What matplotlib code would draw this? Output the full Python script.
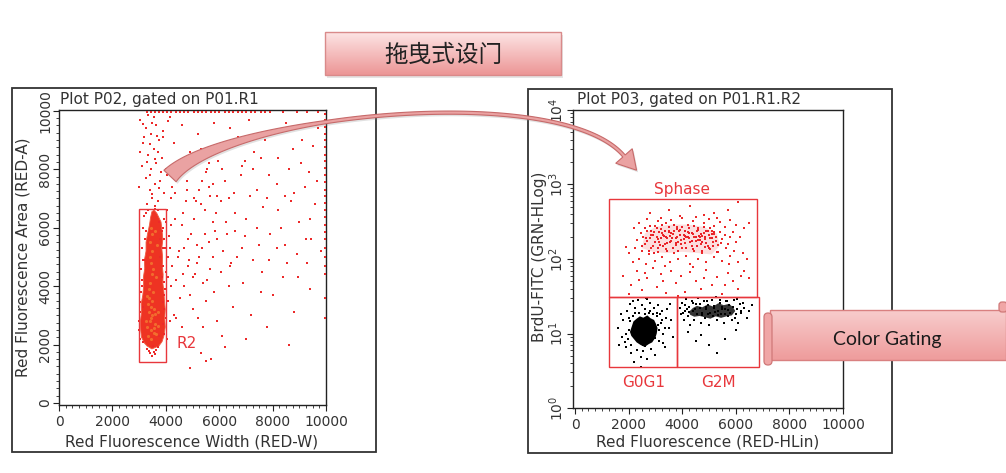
import matplotlib.pyplot as plt
import numpy as np
from matplotlib.patches import Rectangle, Polygon, FancyBboxPatch
from matplotlib.ticker import MultipleLocator, LogLocator, NullFormatter
from matplotlib.colors import LinearSegmentedColormap

plt.rcParams['font.family'] = ['DejaVu Sans', 'Noto Sans CJK SC']

# ---------------- data ----------------
# left plot P02: RED-W vs RED-A
col_env_x = [3480, 3300, 3200, 3090, 3060, 3050, 3090, 3080, 3140, 3170, 3160, 3210, 3200, 3260, 3260, 3320, 3390, 3430, 3480,
             3560, 3660, 3740, 3820, 3860, 3890, 3850, 3880, 3870, 3900, 3890, 3930, 3950, 3980, 3960, 3980, 3930, 3860, 3740, 3610]
col_env_y = [1850, 1950, 2050, 2250, 2500, 2800, 3100, 3400, 3700, 4000, 4300, 4600, 4900, 5200, 5500, 5800, 6100, 6350, 6550,
             6600, 6500, 6350, 6200, 5900, 5600, 5300, 5000, 4700, 4400, 4100, 3800, 3500, 3200, 2900, 2600, 2300, 2100, 1950, 1900]
col_hi_x = [3350, 3450, 3550, 3400, 3500, 3300, 3600, 3450, 3380, 3520, 3420, 3480, 3560, 3360, 3440, 3500, 3400, 3470, 3530, 3430,
            3380, 3490, 3460, 3410, 3540, 3320, 3580, 3450, 3650, 3700, 3620, 3680, 3250, 3280, 3720, 3600]
col_hi_y = [2300, 2500, 2400, 2800, 3000, 2600, 2700, 3300, 3600, 3800, 4100, 4400, 3200, 3100, 4800, 5200, 5500, 5800, 4600, 2200,
            3900, 3500, 2900, 5000, 2550, 3400, 3050, 6000, 2350, 3100, 4300, 5400, 2800, 3650, 2650, 5900]
halo_x = [3000, 3020, 2980, 3060, 3080, 3120, 3150, 3200, 3900, 3950, 3920, 3850, 3800, 3780, 3760, 3700, 3400, 3550, 3300, 3650,
          4050, 4100, 4000, 3980, 3950, 3150, 3200, 3750, 3250, 3600, 4200, 4150, 3050, 3930, 3860, 3100, 4080, 3350, 3880, 3700,
          3040, 3090, 3140, 3160, 3210, 3260, 3990, 3970, 3910, 3890, 3940, 3880, 3470, 3520, 3590, 3360]
halo_y = [2500, 3100, 2800, 3800, 4600, 5300, 6000, 6400, 2700, 3200, 3700, 4300, 5000, 5600, 6200, 6600, 1700, 1750, 1850, 1800,
          2200, 3500, 4500, 5300, 6300, 2100, 4900, 2300, 6500, 6650, 4000, 2800, 3450, 2350, 5900, 4200, 5000, 6600, 3450, 1900,
          2200, 4000, 3300, 4900, 5600, 5900, 2900, 3900, 4700, 5300, 4150, 6000, 1620, 1950, 1680, 1780]
streak_x = [3300, 3500, 3700, 3400, 3600, 3250, 3800, 3450, 3650, 3350, 3550, 3150, 3750, 3450, 3250, 3650, 3050, 3550, 3850, 3100,
            3950, 3400, 3700, 3200, 3500, 3000, 3600, 3900, 3350, 4000, 3480, 3580, 3280, 3820, 3150, 3680, 3420, 3020, 4100, 3760]
streak_y = [6800, 7000, 6900, 7300, 7500, 7700, 7600, 8000, 8200, 8500, 8700, 8900, 9000, 9200, 9400, 9500, 9700, 9800, 8400, 8100,
            7200, 7800, 8600, 9100, 9600, 7400, 6750, 9300, 9850, 8000, 7150, 8350, 8250, 7900, 9550, 9150, 8850, 8600, 9650, 7350]
sparse_x = [4200, 4500, 4800, 5100, 5300, 5600, 5900, 6200, 6400, 6700, 7000, 7300, 7500, 7800, 8100, 8300, 8600, 8900, 9200, 9500,
            4100, 4400, 4700, 5000, 5400, 5800, 6100, 6500, 6900, 7200, 7600, 8000, 8400, 8800, 9300, 4300, 4600, 4900, 5200, 5500,
            5800, 6100, 6400, 6800, 7100, 7400, 7700, 8200, 8500, 8800, 9100, 9400, 9700, 4050, 4250, 4650, 4950, 5250, 5550, 5750,
            6050, 6300, 6600, 6850, 7150, 7400, 7650, 7900, 8200, 8450, 8700, 9000, 9250, 9600, 5500, 4900, 5300, 5700, 6200, 7000,
            7800, 8600, 9400, 9800, 3900, 4150, 4350, 4700, 5050, 5350, 5650, 5950, 6250, 6550, 6950, 7250, 7550, 7850, 8150, 8450,
            8750, 9050, 9350, 9650, 4550, 4850, 5150, 5450, 5750, 6050, 6350, 6650, 6950, 7250, 7550, 7850, 8150, 8550, 8950, 9450,
            3950, 4050, 4150, 4250, 4350, 4450, 4550, 4650, 4750, 4850, 4950, 5050, 5150, 5250, 5350, 5450, 5550, 5650, 5750, 5850,
            4100, 4300, 4600, 4900, 5200, 5500, 5900, 4000, 4200, 4400, 4700, 4800, 5000, 5300, 5600, 5900, 6150, 6350, 6600, 6850,
            4120, 4380, 4620, 4880, 5130, 5380, 5620, 5880, 6100, 6450]
sparse_y = [6100, 5200, 7300, 4400, 6800, 8200, 5600, 7600, 4700, 9100, 6300, 8600, 5400, 7000, 9300, 6000, 8000, 5100, 7400, 8800,
            3500, 2900, 4000, 3200, 2600, 3800, 2300, 3300, 4100, 3000, 4500, 3700, 4300, 3100, 4800, 8900, 9500, 8600, 9200, 7900,
            9600, 8800, 9400, 7800, 9700, 7300, 9000, 8400, 9600, 7200, 9000, 6300, 9400, 7800, 4700, 6500, 5800, 5000, 4200, 6200,
            6900, 5800, 6500, 5300, 7100, 6000, 6700, 5800, 6600, 5400, 6900, 6200, 5600, 6800, 1450, 1200, 1700, 1500, 1900, 2200,
            2600, 2000, 3900, 5200, 9100, 9800, 7200, 8200, 7000, 7600, 7100, 8300, 6200, 7200, 8300, 8000, 8400, 7800, 7500, 7100,
            8700, 8200, 7900, 7600, 3600, 4700, 5400, 5800, 5000, 4500, 4000, 5000, 5700, 4900, 3800, 4900, 5300, 4800, 4300, 5600,
            5600, 6600, 5300, 7400, 6300, 5000, 7800, 4400, 6900, 5600, 8400, 6300, 4800, 7300, 5300, 6600, 8000, 4600, 7500, 5900,
            4300, 3000, 2600, 3700, 2900, 3500, 2800, 6200, 7000, 8000, 5300, 7600, 4300, 8700, 5500, 7100, 5200, 7000, 5900, 8100,
            5700, 4200, 6100, 4900, 6900, 4100, 7400, 6500, 8000, 4800]
top_row_x = [3300, 3450, 3600, 3750, 3900, 4050, 4200, 4400, 4550, 4700, 4850, 5050, 5200, 5350, 5500, 5700, 5850, 6000, 6200,
             6350, 6500, 6700, 6850, 7000, 7200, 7350, 7550, 7700, 7900, 8400, 8900, 9300, 9700]
right_col_y = [9900, 9700, 9450, 9200, 9000, 8750, 8500, 8300, 8050, 7800, 7550, 7300, 7100, 6850, 6600, 6350, 6100, 5850, 5600,
               5300, 5000, 4700, 4400, 3600, 2900]
r2_x = [3000, 4000]
r2_y = [1400, 6650]

# right plot P03: RED-HLin vs BrdU-FITC (log)
g1_env_x = [2050, 2120, 2180, 2300, 2420, 2550, 2700, 2820, 2950, 3020, 3080, 3050, 3000, 2880, 2750, 2600, 2450, 2300, 2200, 2100]
g1_env_y = [10.5, 12.5, 14.5, 15.8, 17, 16.3, 17.5, 16, 15.2, 13.5, 11.8, 10, 8.8, 7.6, 7.2, 6.6, 7, 7.6, 8.4, 9.3]
g1_x = [1600, 1750, 1800, 1900, 1950, 2000, 2050, 2100, 2150, 2250, 2300, 2350, 2400, 2450, 2500, 2550, 2600, 2650, 2700, 2750,
        2800, 2850, 2900, 2950, 3000, 3050, 3100, 3150, 3200, 3250, 3300, 3350, 3400, 3500, 3550, 3650, 1700, 1850, 2050, 2200,
        2420, 2580, 2680, 2780, 2880, 2980, 3080, 3180, 2320, 2480, 2630, 2730, 2830, 2160, 1980, 3450, 3280, 2370, 2520, 2920,
        3600, 1650, 2450, 2700, 2150, 1900, 2000, 2100, 3150, 3250, 3350, 2250, 2600, 2800, 3050]
g1_y = [12, 9, 15, 6.5, 20, 11, 25, 5.5, 17, 22, 6, 28, 19, 4.8, 24, 5.8, 21, 30, 4.5, 19,
        26, 6.2, 18, 22, 5.2, 17, 24, 8, 14, 20, 10, 6.5, 16, 12, 25, 9, 18, 7.8, 14.5, 4.2,
        9, 12.5, 8.5, 14, 10.5, 8.8, 13, 18.5, 13, 15.5, 6.8, 11, 12.5, 11.5, 8.5, 21, 7.5, 8.2, 7, 13.8,
        15, 7, 3.6, 29, 27, 10, 16, 7, 11, 15, 12, 19, 18.5, 20, 19]
g2_env_x = [4250, 4400, 4550, 4750, 4950, 5150, 5350, 5550, 5750, 5900, 5980, 5850, 5650, 5450, 5250, 5050, 4850, 4650, 4450, 4300]
g2_env_y = [19.5, 22, 23.5, 22.5, 24.5, 23, 25.5, 24, 25, 22.5, 20, 17.5, 17, 16.2, 17, 15.8, 16.5, 17.2, 16.8, 17.8]
g2_x = [3900, 3950, 4000, 4050, 4100, 4150, 4200, 4250, 4300, 4350, 4400, 4450, 4500, 4550, 4600, 4650, 4700, 4750, 4800, 4850,
        4900, 4950, 5000, 5050, 5100, 5150, 5200, 5250, 5300, 5350, 5400, 5450, 5500, 5550, 5600, 5650, 5700, 5750, 5800, 5850,
        5900, 5950, 6000, 6050, 6100, 6150, 6200, 6300, 6400, 6500, 6600, 4120, 4480, 4720, 4980, 5220, 5480, 5720, 5180, 5330,
        4880, 5600, 4260, 6250, 6050, 4500, 5000, 5300, 4700, 6000, 5600, 4200, 4020, 4180, 4420, 4660, 4940, 5420, 5680, 5960, 6180]
g2_y = [22, 18, 26, 15, 20, 29, 17, 23, 13, 27, 20, 15, 25, 18, 30, 22, 14, 19, 27, 16,
        21, 24, 13, 19, 28, 17, 22, 31, 15, 20, 26, 18, 23, 14, 21, 27, 17, 24, 19, 15,
        23, 28, 18, 21, 14, 25, 19, 22, 16, 20, 24, 24.5, 21.5, 17.5, 18, 19.5, 21.5, 20.5, 23.5, 17.5,
        22.5, 18, 19.5, 26, 29, 8, 7, 5.5, 9.5, 11, 8.5, 10.5, 19, 21, 26, 25, 27, 28, 27, 16, 20]
sp_env_x = [2500, 2900, 3400, 4000, 4600, 5100, 5400, 5300, 4800, 4200, 3600, 3000, 2600]
sp_env_y = [140, 125, 120, 125, 120, 115, 150, 220, 270, 290, 290, 270, 220]
sp_x = [3500, 4300, 5200, 6100, 2800, 4800, 5700, 3900,
        2400, 2700, 3000, 3200, 3400, 3600, 3800, 4000, 4200, 4400, 4600, 4800, 5000, 5200, 5400, 5600, 5800, 6000, 6300, 2200,
        3100, 4500, 5300, 6500,
        2300, 2450, 2600, 2700, 2800, 2900, 2950, 3050, 3150, 3200, 3300, 3350, 3450, 3500, 3600, 3650, 3750, 3800, 3900, 3950,
        4050, 4100, 4200, 4250, 4350, 4400, 4500, 4550, 4650, 4700, 4800, 4850, 4950, 5000, 5100, 5150, 5250, 5350, 5400, 5500,
        5600, 5700, 5800, 5900, 6000, 6150, 2550, 3100, 3550, 4150, 4600, 5050, 5450, 3250, 3850, 4450, 5200, 2850, 3700, 4750,
        2000, 2150, 2250, 2400, 2500, 2650, 2750, 2850, 3000, 3100, 3250, 3400, 3550, 3700, 3850, 4000, 4150, 4300, 4450, 4600,
        4750, 4900, 5050, 5200, 5350, 5500, 5650, 5800, 5950, 6100, 6250, 6400, 1900, 3350, 4850, 5750,
        1800, 2100, 2300, 2500, 2700, 2900, 3050, 3200, 3400, 3600, 3750, 3950, 4100, 4300, 4500, 4700, 4900, 5100, 5300, 5500,
        5700, 5900, 6100, 6300, 6500, 2000, 2600, 3300, 4400, 5600, 6200, 3850, 4800, 2400]
sp_y = [450, 520, 420, 580, 410, 390, 460, 380,
        300, 340, 280, 360, 300, 330, 270, 350, 290, 320, 260, 300, 340, 280, 310, 270, 330, 290, 260, 260,
        320, 370, 360, 300,
        180, 220, 160, 240, 190, 150, 230, 200, 170, 250, 210, 160, 190, 235, 175, 215, 155, 200, 245, 180,
        210, 165, 230, 190, 150, 215, 175, 240, 200, 160, 225, 185, 150, 210, 240, 170, 200, 155, 230, 185,
        210, 160, 195, 230, 170, 200, 200, 185, 205, 195, 180, 190, 165, 225, 170, 195, 215, 210, 240, 205,
        120, 90, 140, 100, 130, 85, 115, 140, 95, 125, 105, 135, 90, 120, 100, 140, 110, 85, 130, 100,
        120, 90, 135, 105, 125, 95, 140, 110, 130, 90, 120, 100, 145, 80, 145, 85,
        60, 45, 70, 38, 55, 75, 42, 62, 35, 70, 48, 60, 36, 66, 50, 40, 72, 45, 58, 34,
        65, 50, 40, 70, 55, 34, 65, 50, 78, 45, 60, 32, 55, 52]
sp_core_x = [2500, 2600, 2650, 2750, 2800, 2900, 3000, 3050, 3100, 3150, 3200, 3250, 3300, 3350, 3400, 3450, 3500, 3550, 3600,
             3650, 3700, 3750, 3800, 3850, 3900, 3950, 4000, 4050, 4100, 4150, 4200, 4250, 4300, 4350, 4400, 4450, 4500, 4550,
             4600, 4650, 4700, 4750, 4800, 4850, 4900, 4950, 5000, 5050, 5100, 5150, 5200, 5250, 5300, 2700, 2950, 3180, 3420,
             3620, 3880, 4120, 4380, 4620, 4880, 5120, 3330, 3780, 4260, 4720, 2850, 3520]
sp_core_y = [150, 260, 190, 130, 280, 210, 170, 260, 140, 230, 190, 290, 150, 240, 200, 130, 270, 170, 220,
             140, 290, 190, 250, 130, 210, 160, 270, 185, 235, 140, 200, 260, 170, 225, 135, 280, 195, 150,
             245, 180, 215, 130, 270, 200, 165, 235, 140, 260, 190, 150, 230, 175, 125, 175, 120, 155, 165,
             190, 235, 205, 175, 205, 240, 215, 205, 165, 220, 170, 240, 230]
sphase_gate = [1270, 6800, 31, 630]
g0g1_gate = [1270, 3800, 3.5, 31]
g2m_gate = [3800, 6850, 3.5, 31]

RED = '#ec2a2a'
GATE = '#e8373c'
W, H = 1006, 473

fig = plt.figure(figsize=(W / 100, H / 100), dpi=100)
fig.patch.set_facecolor('white')


def px_axes(x0, y0, x1, y1):
    return fig.add_axes([x0 / W, 1 - y1 / H, (x1 - x0) / W, (y1 - y0) / H])


def style(ax):
    for s in ax.spines.values():
        s.set_color('#222222')
        s.set_linewidth(1.0)
    ax.tick_params(which='both', direction='out', colors='#222222', labelcolor='#333333', labelsize=10)
    ax.tick_params(which='major', length=4)
    ax.tick_params(which='minor', length=2.5)
    ax.tick_params(axis='y', labelrotation=90, pad=1)
    ax.tick_params(axis='x', pad=3)


def dots(ax, x, y, color, size=3, marker='s', **kw):
    ax.scatter(x, y, s=size, c=color, marker=marker, linewidths=0, zorder=3, **kw)


# ---- left plot ----
ax1 = px_axes(59, 110, 326, 405)
ax1.set_xlim(0, 10000)
ax1.set_ylim(-70, 10030)
ax1.add_patch(Polygon(np.column_stack([col_env_x, col_env_y]), closed=True, fc='#ee3323', ec='#f05a40', lw=0.6, zorder=2))
dots(ax1, col_hi_x, col_hi_y, '#f47a30', size=5, marker='o', alpha=0.8)
dots(ax1, halo_x, halo_y, RED)
dots(ax1, streak_x, streak_y, RED)
dots(ax1, sparse_x, sparse_y, RED)
dots(ax1, top_row_x, [9960] * len(top_row_x), RED, size=4)
dots(ax1, [9975] * len(right_col_y), right_col_y, RED, size=4)
ax1.add_patch(Rectangle((r2_x[0], r2_y[0]), r2_x[1] - r2_x[0], r2_y[1] - r2_y[0], fill=False, ec=GATE, lw=1, zorder=4))
ax1.text(4400, 2050, 'R2', color=GATE, fontsize=11, ha='left', va='center')
ax1.set_xticks(range(0, 10001, 2000))
ax1.set_yticks(range(0, 10001, 2000))
ax1.xaxis.set_minor_locator(MultipleLocator(250))
ax1.yaxis.set_minor_locator(MultipleLocator(250))
style(ax1)
plt.setp(ax1.get_yticklabels(), va='center')

# ---- right plot ----
ax2 = px_axes(573, 110, 843, 408)
ax2.set_yscale('log')
ax2.set_xlim(-75, 10000)
ax2.set_ylim(1, 1e4)
ax2.add_patch(Polygon(np.column_stack([sp_env_x, sp_env_y]), closed=True, fc='#f36a6a', ec='none', alpha=0.22, zorder=2))
dots(ax2, sp_x, sp_y, RED, size=3.5)
dots(ax2, sp_core_x, sp_core_y, '#e8202a', size=3.5)
ax2.add_patch(Polygon(np.column_stack([g1_env_x, g1_env_y]), closed=True, fc='black', ec='none', zorder=2))
dots(ax2, g1_x, g1_y, 'black')
ax2.add_patch(Polygon(np.column_stack([g2_env_x, g2_env_y]), closed=True, fc='#111111', ec='none', alpha=0.85, zorder=2))
dots(ax2, g2_x, g2_y, 'black')
for gx0, gx1, gy0, gy1 in [sphase_gate, g0g1_gate, g2m_gate]:
    ax2.add_patch(Rectangle((gx0, gy0), gx1 - gx0, gy1 - gy0, fill=False, ec=GATE, lw=1, zorder=4))
ax2.text(4000, 850, 'Sphase', color=GATE, fontsize=11, ha='center', va='center')
ax2.text(2550, 2.2, 'G0G1', color=GATE, fontsize=11, ha='center', va='center')
ax2.text(5350, 2.2, 'G2M', color=GATE, fontsize=11, ha='center', va='center')
ax2.set_xticks(range(0, 10001, 2000))
ax2.xaxis.set_minor_locator(MultipleLocator(250))
ax2.set_yticks([1, 10, 100, 1000, 10000])
ax2.yaxis.set_minor_locator(LogLocator(base=10, subs=np.arange(2, 10)))
ax2.yaxis.set_minor_formatter(NullFormatter())
style(ax2)
plt.setp(ax2.get_yticklabels(), va='center')

# ---- overlay in pixel coordinates ----
ov = fig.add_axes([0, 0, 1, 1])
ov.set_zorder(10)
ov.patch.set_alpha(0)
ov.axis('off')
ov.set_autoscale_on(False)
ov.set_xlim(0, W)
ov.set_ylim(H, 0)

# panel frames
ov.add_patch(Rectangle((12, 88), 364, 364, fill=False, ec='#333333', lw=1.3))
ov.add_patch(Rectangle((528, 89), 364, 364, fill=False, ec='#333333', lw=1.3))

txt = dict(color='#333333', fontsize=11)
ov.text(60, 104, 'Plot P02, gated on P01.R1', ha='left', va='baseline', **txt)
ov.text(577, 104, 'Plot P03, gated on P01.R1.R2', ha='left', va='baseline', **txt)
ov.text(192, 446, 'Red Fluorescence Width (RED-W)', ha='center', va='baseline', **txt)
ov.text(708, 446, 'Red Fluorescence (RED-HLin)', ha='center', va='baseline', **txt)
ov.text(23, 257, 'Red Fluorescence Area (RED-A)', ha='center', va='center', rotation=90, **txt)
ov.text(540, 257, 'BrdU-FITC (GRN-HLog)', ha='center', va='center', rotation=90, **txt)


def grad_box(x0, y0, x1, y1, c_top, c_bot, edge, z):
    cmap = LinearSegmentedColormap.from_list('g', [c_top, c_bot])
    img = ov.imshow(np.linspace(0, 1, 64)[:, None], cmap=cmap, extent=(x0, x1, y1, y0),
                    aspect='auto', zorder=z, interpolation='bicubic')
    rect = Rectangle((x0, y0), x1 - x0, y1 - y0, fc='none', ec=edge, lw=1, zorder=z + 0.1)
    ov.add_patch(rect)
    img.set_clip_path(rect)


# drag gating box
ov.add_patch(Rectangle((327, 35), 236, 43, fc='#999999', ec='none', alpha=0.25, zorder=2))
grad_box(325, 32, 561, 75, '#fde4e4', '#ec9696', '#d98a8a', 3)
ov.text(443, 55, '拖曳式设门', ha='center', va='center', fontsize=17, color='#222222',
        family=['Noto Sans CJK SC', 'DejaVu Sans'])

# curved arrow
ctrl = np.array([[170, 176], [225, 115], [560, 80], [624, 156]], float)
t = np.linspace(0, 1, 120)[:, None]
c = (1 - t) ** 3 * ctrl[0] + 3 * (1 - t) ** 2 * t * ctrl[1] + 3 * (1 - t) * t ** 2 * ctrl[2] + t ** 3 * ctrl[3]
d = np.gradient(c, axis=0)
d /= np.linalg.norm(d, axis=1)[:, None]
nrm = np.column_stack([-d[:, 1], d[:, 0]])
half = 1.6 + 6.8 * np.clip(1 - t[:, 0] / 0.4, 0, 1) ** 1.5
up = c + nrm * half[:, None]
lo = c - nrm * half[:, None]
tip = ctrl[3] + d[-1] * 19
head = np.array([ctrl[3] + nrm[-1] * 11, tip, ctrl[3] - nrm[-1] * 11])
shape = np.vstack([up, head, lo[::-1]])
ov.add_patch(Polygon(shape + [1.5, 2], closed=True, fc='#888888', ec='none', alpha=0.25, zorder=4))
ov.add_patch(Polygon(shape, closed=True, fc='#eaa2a2', ec='#c76a6a', lw=0.8, zorder=5))

# color gating banner
grad_box(770, 310, 1006, 360, '#f8cccc', '#ee9c9c', '#d98080', 6)
ov.add_patch(FancyBboxPatch((764, 313), 8, 52, boxstyle='round,pad=0,rounding_size=4',
                            fc='#f0a6a6', ec='#d07878', lw=0.9, zorder=7))
ov.add_patch(FancyBboxPatch((999, 302), 8, 10, boxstyle='round,pad=0,rounding_size=3',
                            fc='#f0a6a6', ec='#d07878', lw=0.9, zorder=7))
ov.text(887, 339, 'Color Gating', ha='center', va='center', fontsize=14, color='#1a1a1a', family='Lato', zorder=8)

fig.savefig('out.png', dpi=100)
